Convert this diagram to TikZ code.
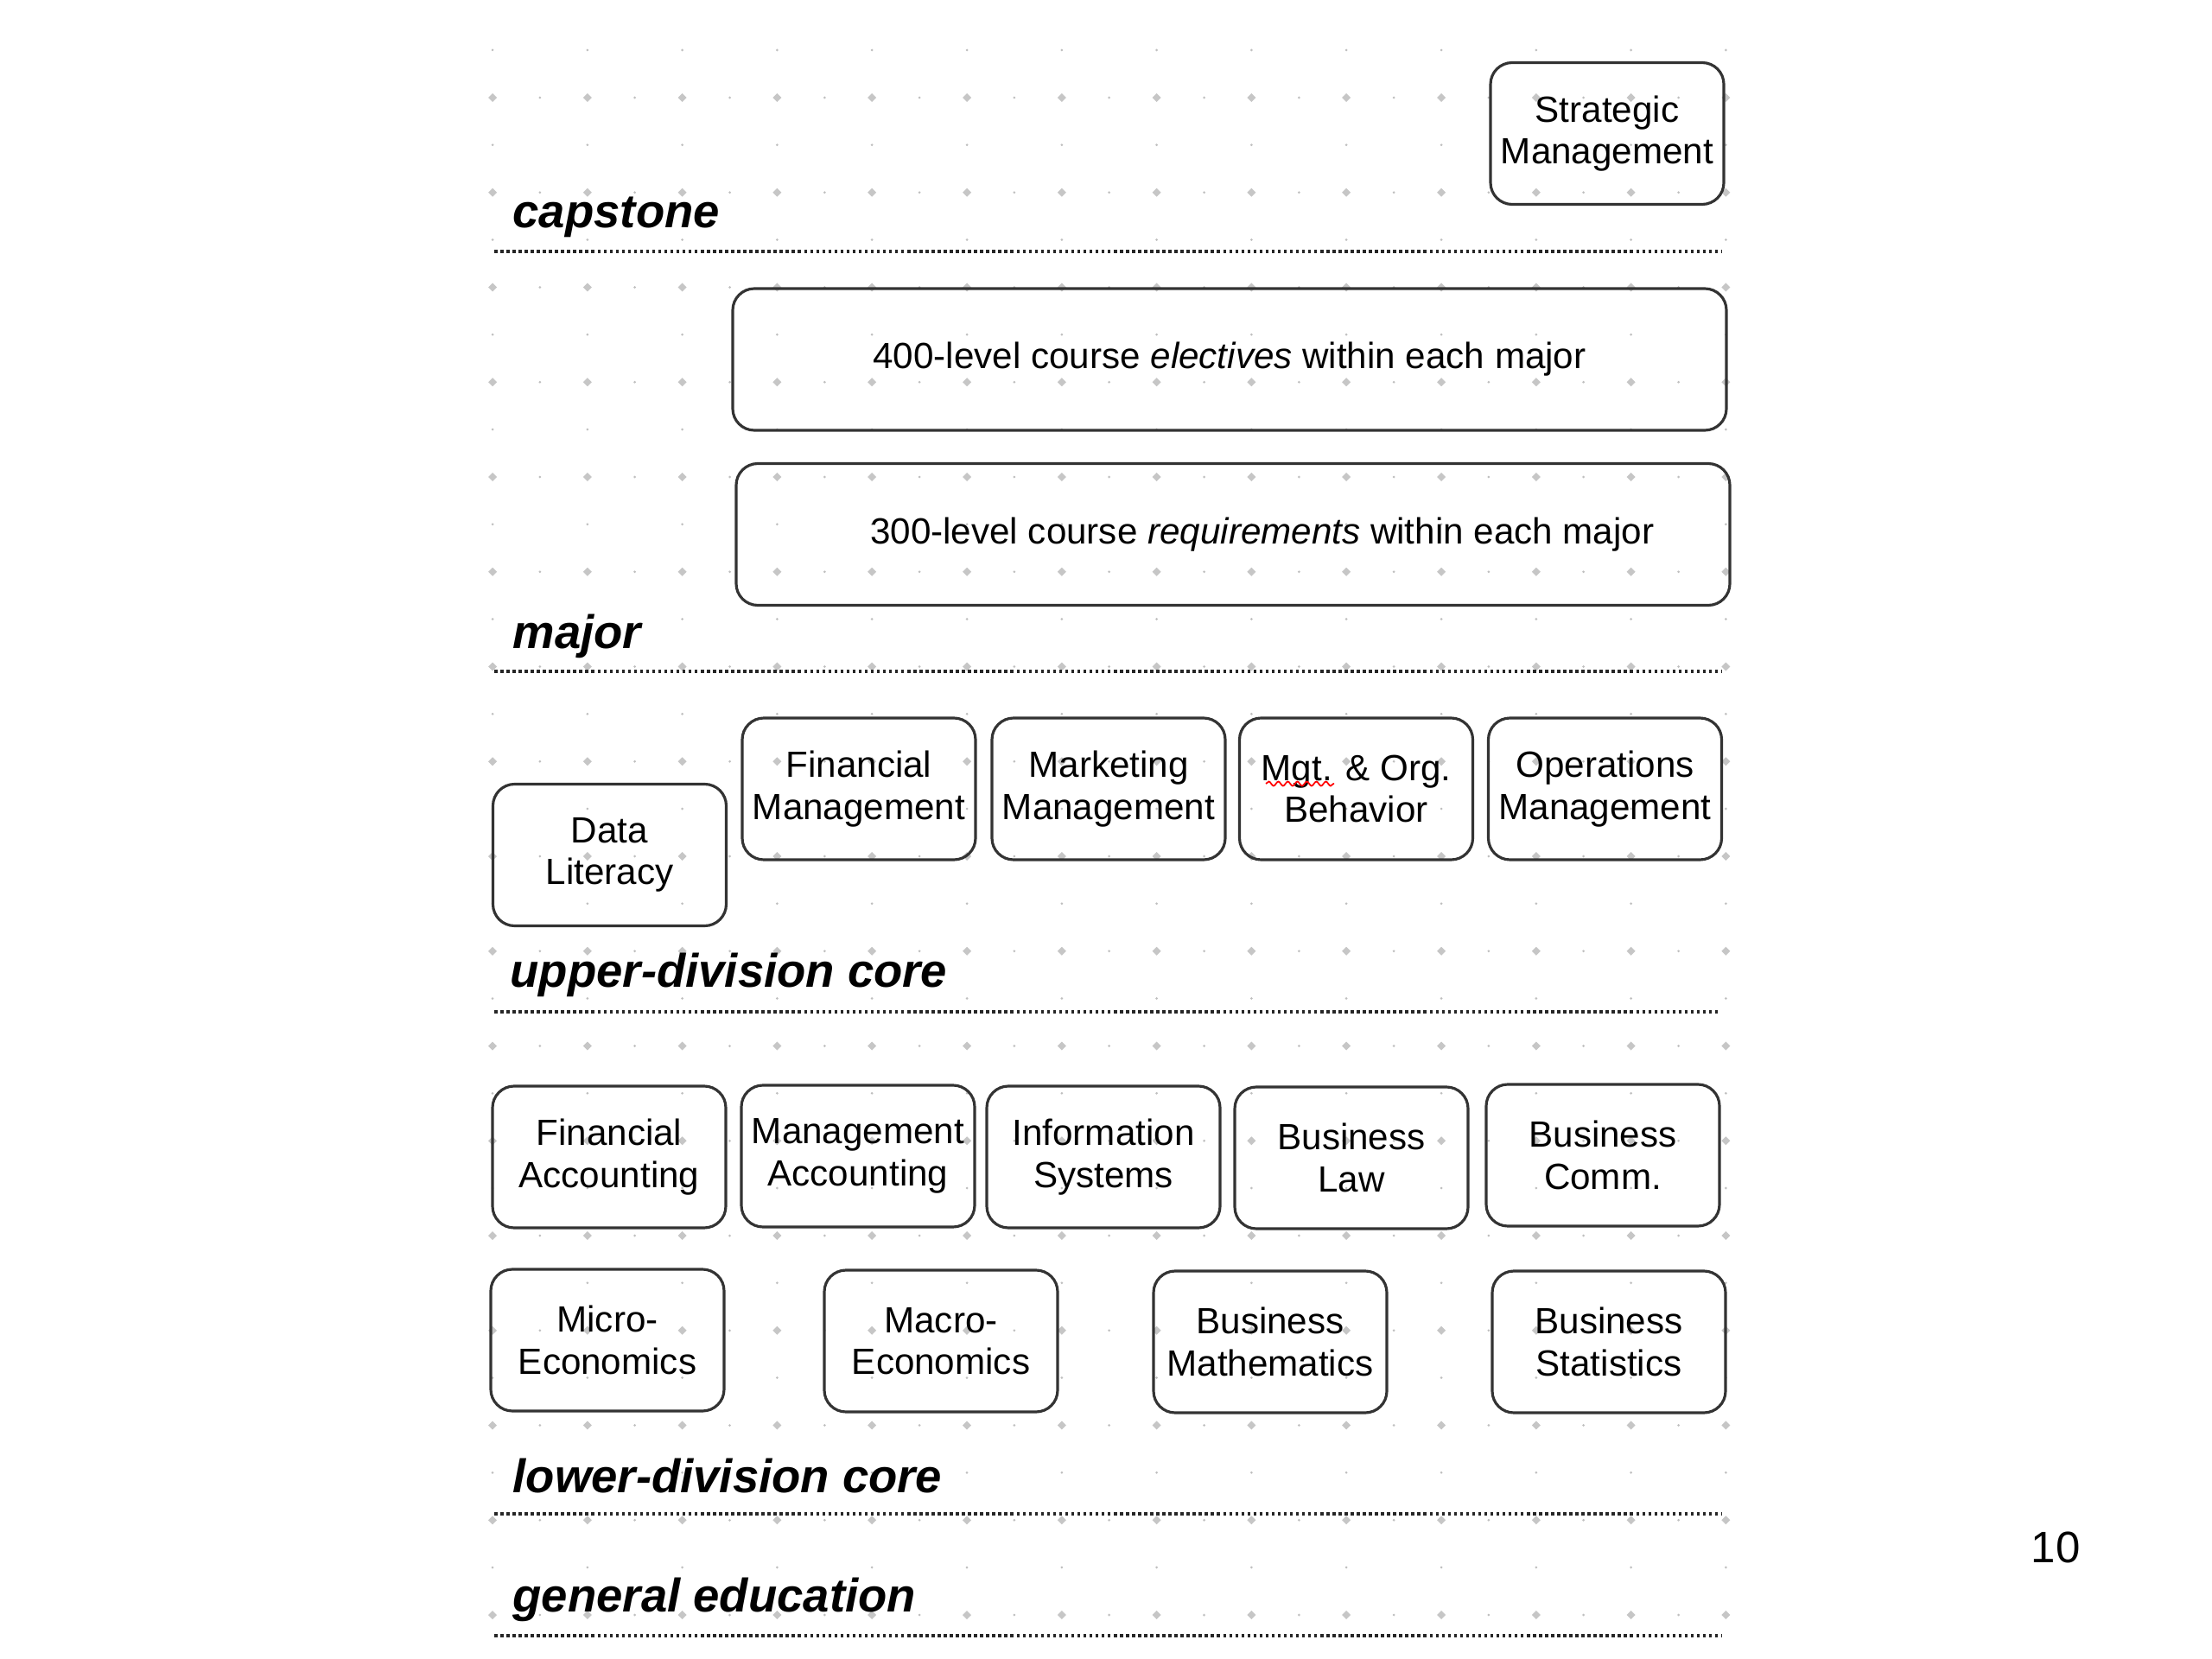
\documentclass[tikz,border=0pt]{standalone}
\usepackage{fontspec}
\setmainfont{Liberation Sans}
\usepackage{tikz}
\usetikzlibrary{decorations.pathmorphing}

\tikzset{
  course/.style={draw=black!80, line width=0.9pt, rounded corners=0.25cm,
    minimum width=2.7cm, minimum height=1.64cm, inner sep=0pt, align=center,
    font=\fontsize{12pt}{13.8pt}\selectfont},
  widebox/.style={course, minimum width=11.5cm},
  tier/.style={anchor=base west, inner sep=0pt,
    font=\fontsize{15.5pt}{18pt}\selectfont\bfseries\itshape},
  divider/.style={black!85, line width=1pt, dash pattern=on 1pt off 1pt},
  squiggle/.style={red, line width=0.5pt, decorate,
    decoration={snake, amplitude=0.25mm, segment length=1.1mm}},
}

\begin{document}
\begin{tikzpicture}
\useasboundingbox (0,0) rectangle (25.6,-19.2);

% Grid
\foreach \i in {0,...,13}
  \foreach \j in {0,...,16} {
    \fill[gray!45] ({5.70+1.098*\i},{-1.13-1.0975*\j}) ++(0.05,0) -- ++(-0.05,0.05)
      -- ++(-0.05,-0.05) -- ++(0.05,-0.05) -- cycle;
    \fill[gray!50] ({5.70+1.098*\i},{-0.58-1.0975*\j}) circle (0.015);
  }
\foreach \i in {0,...,12}
  \foreach \j in {0,...,16}
    \fill[gray!50] ({6.249+1.098*\i},{-1.13-1.0975*\j}) circle (0.015);

% Capstone
\node[course] (strat) at (18.60,-1.545) {Strategic\\Management};
\node[tier] (capstone) at (5.93,-2.64) {capstone};
\draw[divider] (5.72,-2.91) -- (19.92,-2.91);

% Major
\node[widebox] (lvl400) at (14.23,-4.16) {400-level course \textit{electives} within each major};
\node[widebox] (lvl300) at (14.27,-6.185) {};
\node[anchor=west, inner sep=0pt, font=\fontsize{12pt}{13.8pt}\selectfont] (lvl300txt)
  at ([xshift=1.56cm]lvl300.west) {300-level course \textit{requirements} within each major};
\node[tier] (major) at (5.93,-7.50) {major};
\draw[divider] (5.72,-7.77) -- (19.92,-7.77);

% Upper-division core
\node[course] (datalit) at (7.055,-9.895) {Data\\Literacy};
\node[course] (finmgt) at (9.94,-9.13) {Financial\\Management};
\node[course] (mktmgt) at (12.83,-9.13) {Marketing\\Management};
\node[course] (mgtorg) at (15.695,-9.13) {Mgt. \& Org.\\Behavior};
\node[course] (opsmgt) at (18.575,-9.13) {Operations\\Management};
\draw[squiggle] ([shift={(-1.045,0.06)}]mgtorg.center) -- ++(0.79,0);
\node[tier] (upper) at (5.90,-11.42) {upper-division core};
\draw[divider] (5.72,-11.71) -- (19.90,-11.71);

% Lower-division core
\node[course] (finacct) at (7.05,-13.39) {Financial\\Accounting};
\node[course] (mgtacct) at (9.93,-13.38) {Management\\Accounting};
\node[course] (infosys) at (12.77,-13.39) {Information\\Systems};
\node[course] (buslaw) at (15.64,-13.40) {Business\\Law};
\node[course] (buscomm) at (18.55,-13.37) {Business\\Comm.};
\node[course] (micro) at (7.03,-15.51) {Micro-\\Economics};
\node[course] (macro) at (10.89,-15.52) {Macro-\\Economics};
\node[course] (busmath) at (14.70,-15.53) {Business\\Mathematics};
\node[course] (busstat) at (18.62,-15.53) {Business\\Statistics};
\node[tier] (lower) at (5.93,-17.27) {lower-division core};
\draw[divider] (5.72,-17.52) -- (19.92,-17.52);

% General education
\node[tier] (gened) at (5.93,-18.65) {general education};
\draw[divider] (5.72,-18.93) -- (19.92,-18.93);

% Page number
\node[font=\fontsize{14.5pt}{17pt}\selectfont] (pagenum) at (23.79,-17.91) {10};

\end{tikzpicture}
\end{document}
